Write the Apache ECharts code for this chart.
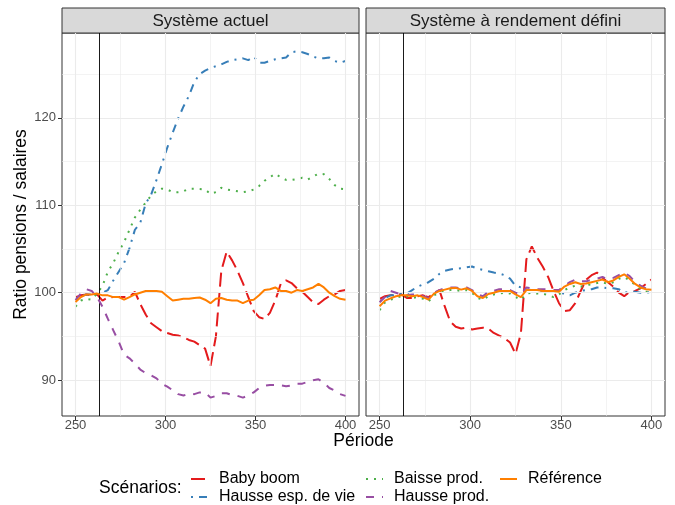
<!DOCTYPE html>
<html>
<head>
<meta charset="utf-8">
<script src="https://cdn.jsdelivr.net/npm/echarts@6.0.0/dist/echarts.min.js"></script>
<style>
  body { margin: 0; background: #fff; }
  #chart { width: 675px; height: 505px; }
</style>
</head>
<body>
<div id="chart"></div>
<script>
// périodes communes à toutes les séries
const periodes = [250, 253, 256, 259, 262, 265, 268, 271, 274, 277, 280, 283, 286, 289, 292, 295, 298,
  301, 304, 307, 310, 313, 316, 319, 322, 325, 328, 331, 334, 337, 340, 343, 346, 349, 352, 355, 358,
  361, 364, 367, 370, 373, 376, 379, 382, 385, 388, 391, 394, 397, 400];

// Système actuel
const p1BabyBoom = [99.5, 99.7, 99.8, 99.7, 99.8, 99.1, 99.45, 99.5, 99.5, 99.5, 99.5, 100.1, 98.7, 97.5, 96.5, 96.05,
  95.6, 95.4, 95.2, 95.1, 94.9, 94.6, 94.4, 94.0, 93.6, 91.6, 95.0, 102.5, 104.7, 103.7, 102.5, 101.1, 99.5, 97.9,
  97.2, 97.0, 97.7, 99.1, 101.0, 101.4, 101.1, 100.5, 100.1, 99.5, 98.9, 98.7, 99.2, 99.6, 99.8, 100.2, 100.3];
const p1HausseEsp = [99.3, 99.6, 99.8, 99.8, 99.9, 100.0, 100.3, 101.4, 102.4, 103.4, 105.1, 107.2, 108.0, 110.2,
  111.2, 112.9, 114.7, 116.6, 118.3, 119.9, 121.3, 122.5, 124.1, 125.0, 125.4, 125.7, 125.9, 126.1, 126.4, 126.6,
  126.7, 126.8, 126.6, 127.0, 126.3, 126.3, 126.5, 126.7, 126.8, 126.9, 127.5, 127.6, 127.5, 127.3, 127.0, 126.8,
  126.8, 126.9, 126.5, 126.3, 126.5];
const p1BaisseProd = [98.4, 99.1, 99.3, 99.2, 99.9, 100.8, 102.4, 103.4, 104.7, 105.8, 107.2, 108.6, 109.5, 110.3,
  111.1, 111.6, 111.9, 111.8, 111.5, 111.5, 111.6, 111.9, 111.9, 111.85, 111.8, 111.3, 111.5, 112.0, 111.8, 111.7,
  111.6, 111.5, 111.6, 111.8, 112.2, 112.8, 113.2, 113.6, 113.2, 112.9, 112.9, 113.0, 113.15, 112.95, 113.3, 113.6,
  113.55, 113.0, 112.3, 111.9, 111.85];
const p1HausseProd = [99.15, 99.9, 100.4, 100.2, 99.5, 98.4, 97.0, 95.7, 94.4, 92.9, 92.5, 91.9, 91.2, 90.8, 90.55,
  90.2, 89.6, 89.25, 88.85, 88.4, 88.25, 88.45, 88.4, 88.6, 88.6, 88.0, 88.2, 88.5, 88.5, 88.3, 88.2, 88.0, 88.25,
  88.6, 89.1, 89.35, 89.45, 89.45, 89.4, 89.3, 89.4, 89.6, 89.6, 89.8, 90.0, 90.1, 89.7, 89.1, 88.8, 88.4, 88.2];
const p1Reference = [98.95, 99.5, 99.8, 99.8, 99.9, 99.7, 99.7, 99.5, 99.5, 99.2, 99.5, 99.8, 100.0, 100.2, 100.2,
  100.2, 100.1, 99.6, 99.1, 99.2, 99.3, 99.3, 99.4, 99.45, 99.2, 98.8, 99.3, 99.4, 99.2, 99.1, 99.1, 98.8, 99.1,
  99.2, 99.7, 100.3, 100.4, 100.6, 100.2, 100.2, 100.0, 100.3, 100.2, 100.4, 100.6, 101.0, 100.6, 100.0, 99.6,
  99.3, 99.2];

// Système à rendement défini
const p2BabyBoom = [99.3, 99.6, 99.7, 99.8, 99.8, 99.4, 99.4, 99.6, 99.7, 99.5, 99.9, 100.3, 98.4, 96.7, 96.1, 95.9,
  96.0, 95.8, 95.9, 96.0, 95.9, 95.4, 95.1, 94.8, 94.3, 93.0, 95.4, 103.8, 105.3, 104.0, 103.0, 101.8, 100.2, 98.8,
  97.9, 98.0, 98.8, 100.2, 101.5, 102.0, 102.3, 101.7, 101.2, 100.7, 100.0, 99.6, 100.1, 100.2, 100.5, 101.0, 101.5];
const p2HausseEsp = [99.0, 99.4, 99.7, 99.7, 99.9, 99.9, 100.3, 100.7, 100.95, 101.2, 101.6, 102.15, 102.5, 102.65,
  102.75, 102.8, 102.9, 103.0, 102.75, 102.6, 102.45, 102.3, 102.2, 102.0, 101.6, 100.8, 100.6, 100.35, 100.3, 100.3,
  100.2, 100.1, 100.1, 100.0, 99.9, 99.7, 100.0, 100.2, 100.3, 100.4, 100.6, 100.6, 100.5, 100.5, 100.4, 100.0,
  100.1, 100.1, 100.0, 100.0, 100.1];
const p2BaisseProd = [98.0, 98.9, 99.2, 99.4, 99.6, 99.6, 99.4, 99.5, 99.3, 99.0, 99.7, 100.0, 100.2, 100.3, 100.3,
  100.2, 100.3, 100.0, 99.4, 99.2, 99.6, 99.8, 99.9, 100.0, 99.9, 99.5, 99.2, 99.9, 100.0, 99.9, 99.9, 99.7, 99.5,
  99.8, 100.3, 100.6, 100.8, 100.7, 100.8, 101.0, 101.1, 101.2, 101.0, 101.2, 101.6, 101.8, 101.4, 100.9, 100.4,
  100.1, 100.1];
const p2HausseProd = [98.9, 99.5, 100.2, 100.0, 99.8, 99.7, 99.8, 99.8, 99.6, 99.4, 100.0, 100.3, 100.5, 100.6,
  100.6, 100.5, 100.6, 100.3, 99.8, 99.6, 100.1, 100.2, 100.4, 100.4, 100.3, 100.0, 99.8, 100.6, 100.5, 100.4,
  100.4, 100.4, 100.3, 100.3, 100.8, 101.2, 101.5, 101.3, 101.3, 101.5, 101.6, 101.8, 101.5, 101.7, 102.0, 102.3,
  101.9, 101.2, 100.8, 100.5, 100.5];
const p2Reference = [98.45, 99.1, 99.35, 99.6, 99.7, 99.7, 99.6, 99.7, 99.5, 99.2, 99.9, 100.2, 100.35, 100.5,
  100.55, 100.35, 100.5, 100.2, 99.6, 99.4, 99.85, 100.0, 100.2, 100.2, 100.2, 99.8, 99.5, 100.3, 100.3, 100.3,
  100.2, 100.2, 100.2, 100.1, 100.7, 101.0, 101.2, 101.0, 101.05, 101.2, 101.35, 101.5, 101.2, 101.4, 101.8,
  102.1, 101.6, 101.0, 100.6, 100.4, 100.35];

const scenarios = ['Baby boom', 'Hausse esp. de vie', 'Baisse prod.', 'Hausse prod.', 'Référence'];
const panneaux = ['Système actuel', 'Système à rendement défini'];
const valeurs = [
  [p1BabyBoom, p1HausseEsp, p1BaisseProd, p1HausseProd, p1Reference],
  [p2BabyBoom, p2HausseEsp, p2BaisseProd, p2HausseProd, p2Reference]
];
const choc = 263;
const xMajeurs = [250, 300, 350, 400];
const xMineurs = [275, 325, 375];
const yMajeurs = [90, 100, 110, 120];
const yMineurs = [95, 105, 115, 125];

// styles
const couleurs = ['#E41A1C', '#377EB8', '#4DAF4A', '#984EA3', '#FF7F00'];
const tirets = [[14, 6], [2, 6, 8, 6], [2, 6], [8, 8], 'solid'];
const police = 'Liberation Sans, Arial, sans-serif';
const grilles = [{ left: 62, width: 297 }, { left: 366, width: 299 }];

const chart = echarts.init(document.getElementById('chart'));

const series = [];
panneaux.forEach((p, i) => {
  const lignes = [];
  xMajeurs.forEach(v => lignes.push({ xAxis: v, lineStyle: { width: 1.1 } }));
  xMineurs.forEach(v => lignes.push({ xAxis: v, lineStyle: { width: 0.6 } }));
  yMajeurs.forEach(v => lignes.push({ yAxis: v, lineStyle: { width: 1.1 } }));
  yMineurs.forEach(v => lignes.push({ yAxis: v, lineStyle: { width: 0.6 } }));
  lignes.push({ xAxis: choc, lineStyle: { color: '#000', width: 0.9 } });
  series.push({
    type: 'line', xAxisIndex: i, yAxisIndex: i, data: [], silent: true, z: 1,
    markLine: {
      silent: true, symbol: ['none', 'none'], label: { show: false },
      lineStyle: { color: '#EBEBEB', type: 'solid' }, data: lignes
    }
  });
  scenarios.forEach((s, k) => {
    series.push({
      name: s, type: 'line', xAxisIndex: i, yAxisIndex: i, z: 2 + k,
      symbol: 'none', showSymbol: false,
      lineStyle: { color: couleurs[k], width: 2, type: tirets[k], cap: 'butt' },
      itemStyle: { color: couleurs[k] },
      data: periodes.map((t, j) => [t, valeurs[i][k][j]])
    });
  });
});

const legendes = [
  { nom: 'Baby boom', left: 190, top: 470 },
  { nom: 'Hausse esp. de vie', left: 190, top: 488 },
  { nom: 'Baisse prod.', left: 365, top: 470 },
  { nom: 'Hausse prod.', left: 365, top: 488 },
  { nom: 'Référence', left: 499, top: 470 }
].map(l => ({
  data: [l.nom], left: l.left, top: l.top, padding: 0, itemGap: 0,
  itemWidth: 17, itemHeight: 10, selectedMode: false,
  itemStyle: { opacity: 0, borderWidth: 0 },
  textStyle: { fontSize: 16, color: '#000', fontFamily: police, lineHeight: 18, padding: [0, 0, 0, 6] }
}));

const graphic = [];
panneaux.forEach((p, i) => {
  graphic.push({
    type: 'rect', shape: { x: grilles[i].left, y: 8, width: grilles[i].width, height: 25 },
    style: { fill: '#D9D9D9', stroke: '#333333', lineWidth: 1 }
  });
  graphic.push({
    type: 'text', x: grilles[i].left + grilles[i].width / 2, y: 21,
    style: { text: p, fill: '#1A1A1A', fontSize: 17, fontFamily: police, align: 'center', verticalAlign: 'middle' }
  });
});
graphic.push({
  type: 'text', x: 363.5, y: 441,
  style: { text: 'Période', fill: '#000', fontSize: 17.5, fontFamily: police, align: 'center', verticalAlign: 'middle' }
});
graphic.push({
  type: 'text', x: 99, y: 488,
  style: { text: 'Scénarios:', fill: '#000', fontSize: 17.5, fontFamily: police, align: 'left', verticalAlign: 'middle' }
});

chart.setOption({
  animation: false,
  backgroundColor: '#fff',
  grid: grilles.map(g => ({
    left: g.left, width: g.width, top: 33, height: 383,
    show: true, borderColor: '#333333', borderWidth: 1, backgroundColor: 'transparent'
  })),
  xAxis: grilles.map((g, i) => ({
    type: 'value', gridIndex: i, min: 242.5, max: 407.5,
    axisLine: { show: false }, splitLine: { show: false },
    axisTick: { show: true, length: 4, customValues: xMajeurs, lineStyle: { color: '#333333' } },
    axisLabel: { customValues: xMajeurs, color: '#4D4D4D', fontSize: 13, fontFamily: police, margin: 3 }
  })),
  yAxis: grilles.map((g, i) => ({
    type: 'value', gridIndex: i, min: 85.9, max: 129.7,
    name: i === 0 ? 'Ratio pensions / salaires' : '',
    nameLocation: 'middle', nameGap: 30,
    nameTextStyle: { fontSize: 17.5, color: '#000', fontFamily: police },
    axisLine: { show: false }, splitLine: { show: false },
    axisTick: { show: i === 0, length: 4, customValues: yMajeurs, lineStyle: { color: '#333333' } },
    axisLabel: { show: i === 0, customValues: yMajeurs, color: '#4D4D4D', fontSize: 13, fontFamily: police, margin: 6 }
  })),
  legend: legendes,
  graphic: graphic,
  series: series
});
</script>
</body>
</html>
